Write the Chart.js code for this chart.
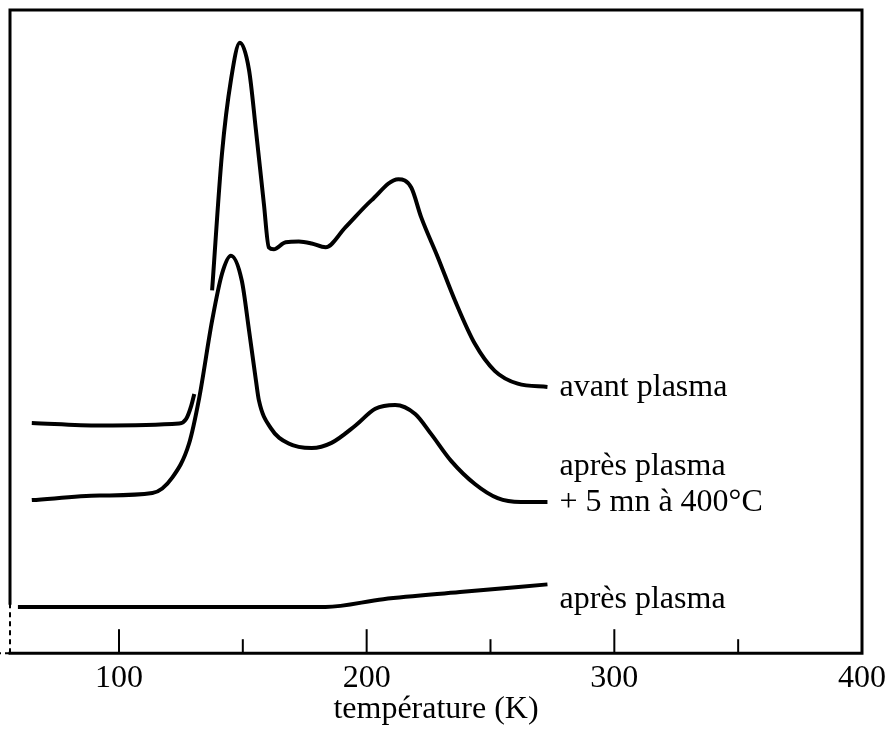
<!DOCTYPE html>
<html>
<head>
<meta charset="utf-8">
<title>Thermodésorption</title>
<script src="https://cdn.jsdelivr.net/npm/chart.js@4.4.0/dist/chart.umd.min.js"></script>
<style>
  html, body { margin: 0; padding: 0; background: #fff; }
  #wrap { width: 892px; height: 739px; }
</style>
</head>
<body>
<div id="wrap"><canvas id="tds-chart"></canvas></div>
<script>
// Desorption spectra: temperature (K) against signal (arbitrary units).
// null splits the "avant plasma" trace into its two drawn pieces.
const avantT = [64.8, 92.2, 124.3, 127.1, 129.2, 130.4, 134,
    137.6, 141.6, 145.2, 148.8, 152.5, 155.3, 158.5, 160.5, 162.5, 167.3, 172.6, 177.8,
    183.4, 191.4, 201.9, 212.8, 218.0, 222.0, 228.8, 235.7, 243.7, 251.7, 261.0, 273.0];
const avantI = [35.8, 35.4, 35.7, 36.4, 38.5, 40.3, null,
    56.4, 77.7, 89.1, 94.9, 90.7, 81.3, 69.9, 63.1, 62.8, 63.9, 64.0, 63.7,
    63.1, 66.2, 70.4, 73.7, 72.4, 67.8, 61.5, 54.8, 48.1, 43.9, 41.9, 41.4];

const recuitT = [64.8, 92.2, 113.5, 121.5, 128.3, 132.4, 137.6, 141.6, 145.2, 149.6, 152.5,
    155.3, 156.5, 161.3, 168.5, 177.8, 185.8, 195.5, 203.5, 211.5, 219.6, 226.0, 234.1,
    243.7, 252.9, 262.2, 273.0];
const recuitI = [23.8, 24.5, 24.9, 27.3, 32.6, 39.7, 51.7, 59.0, 61.8, 57.9, 50.2,
    42.4, 39.3, 35.0, 32.6, 31.9, 32.7, 35.4, 38.0, 38.6, 37.2, 34.1, 29.9,
    26.3, 24.1, 23.5, 23.5];

const apresT = [59.2, 92.2, 132.4, 183.4, 206.7, 237.7, 273.0];
const apresI = [7.2, 7.2, 7.2, 7.2, 8.4, 9.5, 10.7];

const curveLabels = [['avant plasma'], ['après plasma', '+ 5 mn à 400°C'], ['après plasma']];
const xTicks = [100, 150, 200, 250, 300, 350, 400];
const xLabelled = [100, 200, 300, 400];

const serif = "'Liberation Serif', 'Times New Roman', serif";

function toPoints(ts, vals) {
    return ts.map((t, i) => ({ x: t, y: vals[i] }));
}

// Box around the plot, inward tick marks, and the text at the end of each trace
const frameAndLabels = {
    id: 'frameAndLabels',
    afterDraw(chart) {
        const { ctx, chartArea: a, scales: { x } } = chart;
        ctx.save();
        ctx.strokeStyle = '#000';
        ctx.lineCap = 'square';
        ctx.lineWidth = 3;
        ctx.beginPath();
        ctx.moveTo(a.left, a.bottom - 50);
        ctx.lineTo(a.left, a.top);
        ctx.lineTo(a.right, a.top);
        ctx.lineTo(a.right, a.bottom);
        ctx.lineTo(a.left, a.bottom);
        ctx.stroke();

        ctx.lineCap = 'butt';
        ctx.lineWidth = 2;
        ctx.setLineDash([5, 4]);
        ctx.beginPath();
        ctx.moveTo(a.left, a.bottom - 50);
        ctx.lineTo(a.left, a.bottom);
        ctx.moveTo(a.left, a.bottom);
        ctx.lineTo(a.left - 10, a.bottom);
        ctx.stroke();
        ctx.setLineDash([]);

        x.ticks.forEach(t => {
            const px = x.getPixelForValue(t.value);
            if (px > a.right - 3) return;
            const len = t.value % 100 === 0 ? 24 : 14;
            ctx.beginPath();
            ctx.moveTo(px, a.bottom);
            ctx.lineTo(px, a.bottom - len);
            ctx.stroke();
        });

        // baseline of the last text line, measured from the trace end
        const baseShift = [9, 9, 24];
        ctx.fillStyle = '#000';
        ctx.font = `32px ${serif}`;
        ctx.textAlign = 'left';
        ctx.textBaseline = 'alphabetic';
        chart.data.datasets.forEach((ds, i) => {
            const pts = chart.getDatasetMeta(i).data;
            const end = pts[pts.length - 1];
            const lines = curveLabels[i];
            lines.forEach((line, j) => {
                const y = end.y + baseShift[i] - (lines.length - 1 - j) * 36;
                ctx.fillText(line, end.x + 12, y);
            });
        });
        ctx.restore();
    }
};

const lineStyle = {
    borderColor: '#000',
    borderWidth: 4,
    pointRadius: 0,
    fill: false,
    spanGaps: false,
    cubicInterpolationMode: 'monotone'
};

new Chart(document.getElementById('tds-chart'), {
    type: 'line',
    data: {
        datasets: [
            { label: 'avant plasma', data: toPoints(avantT, avantI), ...lineStyle },
            { label: 'après plasma + 5 mn à 400°C', data: toPoints(recuitT, recuitI), ...lineStyle },
            { label: 'après plasma', data: toPoints(apresT, apresI), ...lineStyle }
        ]
    },
    options: {
        responsive: true,
        maintainAspectRatio: false,
        animation: false,
        layout: { padding: { left: 10, right: 26, top: 10, bottom: 10 } },
        plugins: {
            legend: { display: false },
            tooltip: { enabled: false }
        },
        scales: {
            x: {
                type: 'linear',
                min: 56,
                max: 400,
                grid: { display: false, drawTicks: false },
                border: { display: false },
                afterBuildTicks: (scale) => {
                    scale.ticks = xTicks.map(v => ({ value: v }));
                },
                ticks: {
                    autoSkip: false,
                    maxRotation: 0,
                    padding: 6,
                    color: '#000',
                    font: { family: serif, size: 32 },
                    callback: (v) => xLabelled.includes(v) ? String(v) : ''
                },
                title: {
                    display: true,
                    text: 'température (K)',
                    color: '#000',
                    font: { family: serif, size: 32 },
                    padding: { top: -13, bottom: 0 }
                }
            },
            y: {
                display: false,
                min: 0,
                max: 100
            }
        }
    },
    plugins: [frameAndLabels]
});
</script>
</body>
</html>
